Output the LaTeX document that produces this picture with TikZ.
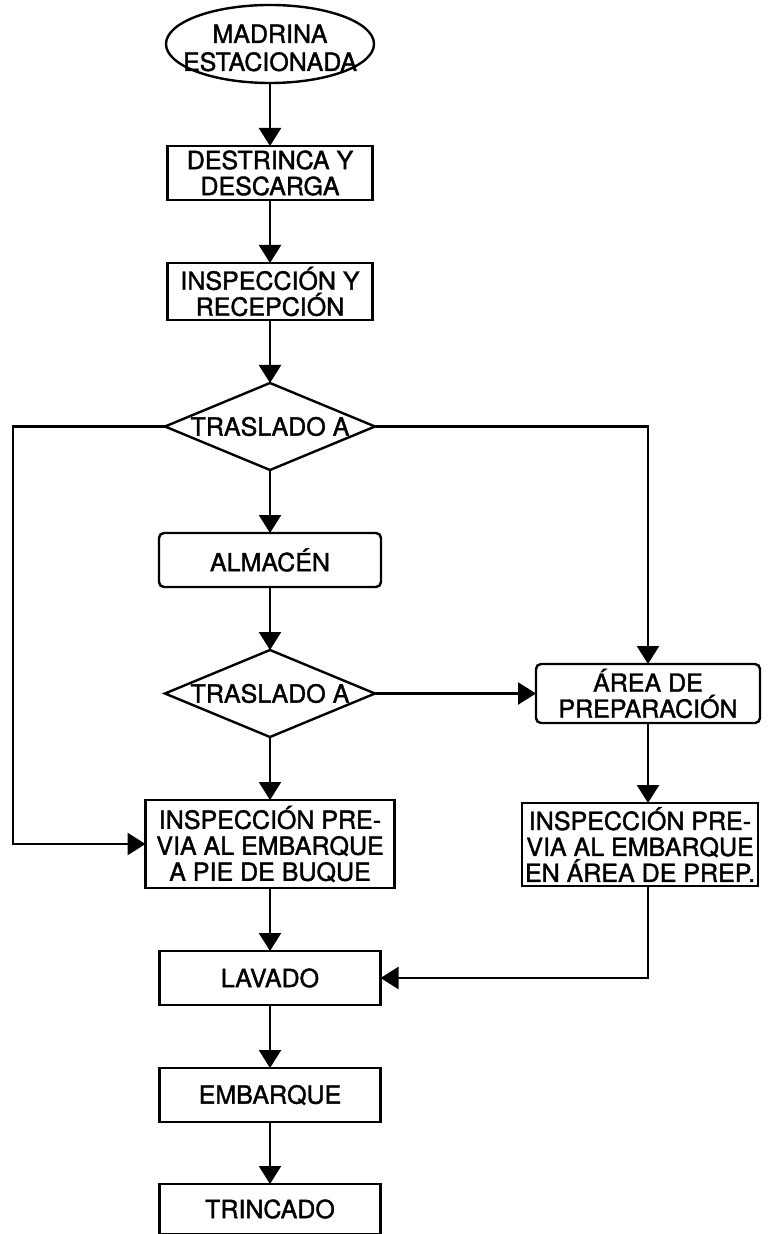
\documentclass[tikz,border=0pt]{standalone}
\usepackage{fontspec}
\newfontfamily\flowfont[FakeBold=1.5]{TeX Gyre Heros}
\usepackage{tikz}
\usetikzlibrary{shapes.geometric, arrows.meta, positioning}
\tikzset{
  term/.style = {ellipse, draw, line width=1.2pt, minimum width=104pt,
                 minimum height=39pt, inner sep=0pt, outer sep=0pt},
  blk/.style  = {rectangle, draw, line width=1.2pt, minimum height=27pt,
                 minimum width=#1, align=center, inner xsep=1pt, inner ysep=0pt,
                 outer sep=0pt, font=\flowfont\fontsize{12.5}{13}\selectfont},
  blk/.default = 111pt,
  rblk/.style = {blk=#1, rounded corners=2.5pt},
  rblk/.default = 111pt,
  dec/.style  = {diamond, draw, line width=1.2pt, minimum width=105pt,
                 minimum height=43.5pt, inner sep=0pt, outer sep=0pt},
  lbl/.style  = {align=center, inner sep=0pt,
                 font=\flowfont\fontsize{12.5}{14}\selectfont},
  arr/.style  = {-{Triangle[length=9pt,width=11pt]}, line width=1.2pt},
}

\begin{document}
\begin{tikzpicture}[node distance=31.5pt]

  \useasboundingbox (0,0) rectangle (386.5pt,-617pt);

  %% --- main column ---
  \node[term, label={[lbl, yshift=-2pt]center:{MADRINA\\ESTACIONADA}}] (start)
        at (135pt,-22pt) {};
  \node[blk=102.5pt, below=of start] (destr)
        {DESTRINCA Y\\DESCARGA};
  \node[blk=102.5pt, minimum height=28.5pt, below=of destr] (recep)
        {INSPECCIÓN Y\\RECEPCIÓN};
  \node[dec, label={[lbl]center:TRASLADO A}, below=of recep] (tras1) {};
  \node[rblk, below=of tras1] (almac) {ALMACÉN};
  \node[dec, label={[lbl]center:TRASLADO A}, below=of almac] (tras2) {};
  \node[blk=124.5pt, minimum height=44pt, below=of tras2] (insppie)
        {INSPECCIÓN PRE-\\VIA AL EMBARQUE\\A PIE DE BUQUE};
  \node[blk=110.5pt, below=of insppie] (lavado) {LAVADO};
  \node[blk=110.5pt, below=of lavado] (embarque) {EMBARQUE};
  \node[blk=110.5pt, minimum height=25pt, below=31pt of embarque] (trinc) {TRINCADO};

  %% --- right column ---
  \node[rblk=112pt, minimum height=29.5pt, right=80.5pt of tras2] (area)
        {ÁREA DE\\PREPARACIÓN};
  \node[blk=118pt, minimum height=41.5pt, below=40pt of area, xshift=-4pt] (inspprep)
        {INSPECCIÓN PRE-\\VIA AL EMBARQUE\\EN ÁREA DE PREP.};

  %% --- Arrows ---
  \draw[arr] (start) -- (destr);
  \draw[arr] (destr) -- (recep);
  \draw[arr] (recep) -- (tras1);
  \draw[arr] (tras1) -- (almac);
  \draw[arr] (almac) -- (tras2);
  \draw[arr] (tras2) -- (insppie);
  \draw[arr] (insppie) -- (lavado);
  \draw[arr] (lavado) -- (embarque);
  \draw[arr] (embarque) -- (trinc);

  \draw[arr] (tras1.west) -- ++(-76pt,0) |- (insppie.west);
  \draw[arr] (tras1.east) -| (area.north);
  \draw[arr] (tras2.east) -- (area.west);
  \draw[arr] (area.south) -- (area.south |- inspprep.north);
  \draw[arr] (area.south |- inspprep.south) |- (lavado.east);

\end{tikzpicture}
\end{document}
